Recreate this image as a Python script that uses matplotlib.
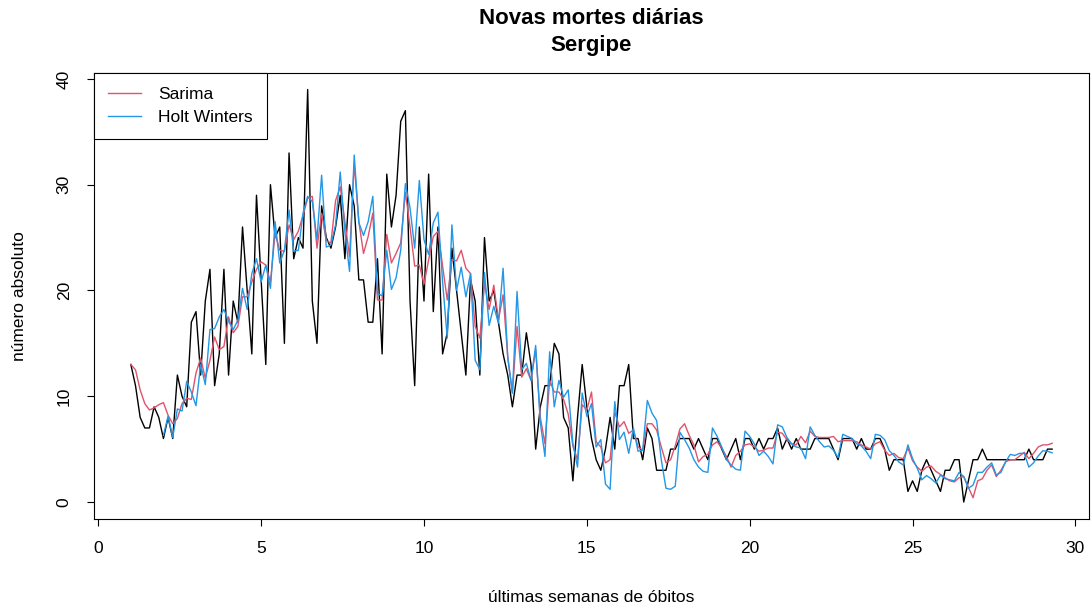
import numpy as np
import matplotlib
matplotlib.use("Agg")
import matplotlib.pyplot as plt

plt.rcParams['font.family'] = ['Liberation Sans', 'DejaVu Sans']

title_line1 = "Novas mortes diárias"
title_line2 = "Sergipe"
xlabel = "últimas semanas de óbitos"
ylabel = "número absoluto"
series_names = ["Sarima", "Holt Winters"]

# observed daily deaths (one value per day, first day at week 1)
observed = [
    13, 11, 8, 7, 7, 9, 8, 6, 8, 6,
    12, 10, 9, 17, 18, 12, 19, 22, 11, 14,
    22, 12, 19, 17, 26, 20, 14, 29, 21, 13,
    30, 25, 26, 15, 33, 23, 25, 24, 39, 19,
    15, 28, 25, 24, 26, 29, 23, 30, 28, 21,
    21, 17, 17, 23, 14, 31, 26, 29, 36, 37,
    19, 11, 26, 19, 31, 18, 26, 14, 16, 24,
    20, 16, 12, 21, 19, 12, 25, 19, 20, 17,
    14, 12, 9, 12, 12, 16, 13, 5, 9, 11,
    11, 15, 14, 8, 7, 2, 8, 13, 9, 6,
    4, 3, 5, 8, 5, 11, 11, 13, 6, 6,
    4, 7, 6, 3, 3, 3, 5, 5, 6, 6,
    6, 5, 6, 5, 4, 6, 6, 5, 4, 5,
    6, 4, 6, 6, 5, 6, 5, 6, 6, 7,
    5, 6, 5, 6, 5, 5, 5, 6, 6, 6,
    6, 5, 4, 6, 6, 6, 5, 6, 5, 5,
    6, 6, 5, 3, 4, 4, 4, 1, 2, 1,
    3, 4, 3, 2, 1, 3, 3, 4, 4, 0,
    2, 4, 4, 5, 4, 4, 4, 4, 4, 4,
    4, 4, 4, 5, 4, 4, 4, 5, 5,
]

sarima = [
    13, 12.5, 10.6, 9.3, 8.7, 8.9, 9.2, 9.4, 8.2, 7.4,
    7.9, 9.3, 9.8, 9.7, 12.2, 13.6, 11.7, 13.4, 15.6, 14.4,
    14.7, 17.5, 16.0, 16.6, 19.4, 19.4, 20.8, 22.0, 22.7, 22.4,
    20.8, 25.4, 23.8, 23.7, 26.2, 24.8, 25.6, 27.1, 28.7, 28.9,
    24.0, 27.3, 24.7, 24.5, 28.5, 29.8, 26.5, 23.2, 32.0, 26.5,
    23.5, 25.1, 27.3, 19.1, 19.1, 25.3, 22.6, 23.5, 24.5, 29.3,
    26.0, 22.3, 22.4, 20.6, 22.9, 25.1, 25.6, 22.3, 19.1, 22.9,
    22.8, 23.8, 22.1, 21.6, 16.6, 15.5, 20.7, 18.2, 20.5, 17.2,
    19.6, 13.7, 10.3, 16.6, 11.8, 12.6, 11.5, 14.4, 8.0, 5.5,
    11.5, 10.4, 10.4, 9.7, 8.3, 5.3, 4.0, 9.2, 8.7, 10.4,
    5.7, 5.2, 3.7, 4.0, 8.5, 7.1, 7.6, 6.5, 6.8, 5.2,
    4.9, 7.4, 7.4, 6.8, 5.2, 3.7, 4.0, 5.3, 6.9, 7.4,
    6.3, 5.4, 3.8, 4.3, 4.5, 5.4, 5.7, 5.1, 4.3, 3.3,
    4.4, 4.8, 5.4, 5.5, 5.2, 4.8, 4.9, 5.1, 5.1, 6.6,
    6.5, 5.9, 5.5, 5.4, 6.2, 5.6, 6.7, 6.2, 6.1, 6.1,
    6.1, 6.2, 5.7, 5.8, 5.8, 5.8, 5.7, 5.4, 5.2, 5.0,
    5.5, 5.7, 4.9, 4.4, 4.6, 4.2, 4.1, 5.1, 3.9, 3.3,
    2.9, 3.3, 3.4, 2.9, 2.6, 2.3, 2.0, 1.9, 2.3, 2.4,
    1.4, 0.4, 2.0, 2.2, 3.0, 3.5, 2.4, 3.0, 3.8, 4.0,
    4.0, 4.35, 4.7, 4.1, 4.6, 5.2, 5.4, 5.4, 5.55,
]

# Holt Winters fitted values start on the 8th day
holt_winters = [np.nan] * 7 + [
    6.3, 8.1, 6.1,
    8.8, 8.6, 11.4, 10.4, 9.1, 13.0, 11.1, 16.3, 16.4, 17.5,
    18.2, 17.1, 16.3, 17.2, 20.2, 18.2, 21.6, 23.0, 20.8, 22.4,
    20.2, 26.5, 22.6, 23.8, 27.6, 23.7, 23.8, 27.3, 28.9, 28.4,
    24.8, 30.9, 24.1, 24.3, 26.2, 31.2, 25.5, 21.8, 32.8, 26.4,
    25.2, 26.5, 28.9, 19.7, 19.5, 23.8, 20.1, 21.2, 23.8, 30.1,
    27.8, 24.0, 30.4, 24.8, 23.4, 26.4, 27.4, 20.8, 15.5, 26.2,
    20.0, 22.2, 19.4, 21.6, 13.4, 12.5, 21.7, 16.7, 18.5, 16.9,
    22.1, 13.7, 10.3, 19.9, 12.5, 13.1, 11.5, 14.8, 7.5, 4.3,
    14.2, 9.0, 11.5, 9.9, 10.6, 5.5, 3.3, 10.3, 8.1, 9.3,
    5.2, 5.9, 1.7, 1.2, 9.5, 5.9, 6.6, 4.6, 7.0, 4.8,
    4.9, 9.6, 8.4, 7.7, 4.0, 1.3, 1.2, 1.5, 6.6, 5.9,
    5.1, 4.0, 3.3, 2.9, 2.8, 7.0, 6.2, 5.2, 4.0, 3.5,
    3.1, 3.0, 6.7, 6.2, 5.5, 4.4, 4.8, 4.3, 3.6, 7.3,
    7.1, 6.1, 5.5, 5.2, 5.1, 4.1, 7.1, 6.3, 5.7, 5.2,
    5.3, 4.9, 4.2, 6.4, 6.2, 6.0, 5.5, 5.3, 4.8, 4.1,
    6.4, 6.3, 5.9, 4.85, 4.4, 3.8, 3.5, 5.4, 4.1, 3.2,
    2.1, 2.5, 2.2, 1.8, 2.55, 2.2, 2.1, 2.0, 2.8, 2.4,
    1.3, 1.6, 2.8, 2.8, 3.3, 3.7, 2.55, 2.8, 3.8, 4.5,
    4.4, 4.6, 4.6, 3.3, 3.7, 4.35, 4.85, 4.8, 4.65,
]

x_ticks = [0, 5, 10, 15, 20, 25, 30]
y_ticks = [0, 10, 20, 30, 40]

n = len(observed)
weeks = 1 + np.arange(n) / 7.0

W, H = 1092, 612
fig = plt.figure(figsize=(W / 100, H / 100), dpi=100)
ax = fig.add_axes([94 / W, 1 - 518.5 / H, (1089 - 94) / W, (518.5 - 73) / H])

ax.plot(weeks, observed, color="black", lw=1.0)
ax.plot(weeks, sarima, color="#DF536B", lw=1.0, label=series_names[0])
ax.plot(weeks, holt_winters, color="#2297E6", lw=1.0, label=series_names[1])

xr = weeks[-1] - weeks[0]
ax.set_xlim(weeks[0] - 0.04 * xr, weeks[-1] + 0.04 * xr)
yr = 39 - 0
ax.set_ylim(0 - 0.04 * yr, 39 + 0.04 * yr)

ax.set_xticks(x_ticks)
ax.set_yticks(y_ticks)
ax.set_yticklabels([str(v) for v in y_ticks], rotation=90, va="center")
ax.tick_params(axis="both", direction="out", length=5, width=0.8,
               labelsize=12.5, colors="black", pad=11)
for s in ax.spines.values():
    s.set_linewidth(0.8)
    s.set_color("black")

fig.text(591.5 / W, 1 - 18 / H, title_line1, ha="center", va="center",
         fontsize=16, fontweight="bold")
fig.text(591.5 / W, 1 - 46 / H, title_line2, ha="center", va="center",
         fontsize=16, fontweight="bold")
fig.text(591.5 / W, 1 - 598 / H, xlabel, ha="center", va="center", fontsize=12.5)
fig.text(20 / W, 1 - 296 / H, ylabel, ha="center", va="center", fontsize=12.5,
         rotation=90)

leg = ax.legend(loc="upper left", bbox_to_anchor=(0, 1), borderaxespad=0,
                fontsize=12.5, fancybox=False, framealpha=1, edgecolor="black",
                handlelength=1.9, handletextpad=1.0, labelspacing=0.45,
                borderpad=0.8)
leg.get_frame().set_linewidth(0.8)

fig.savefig("out.png", dpi=100)
